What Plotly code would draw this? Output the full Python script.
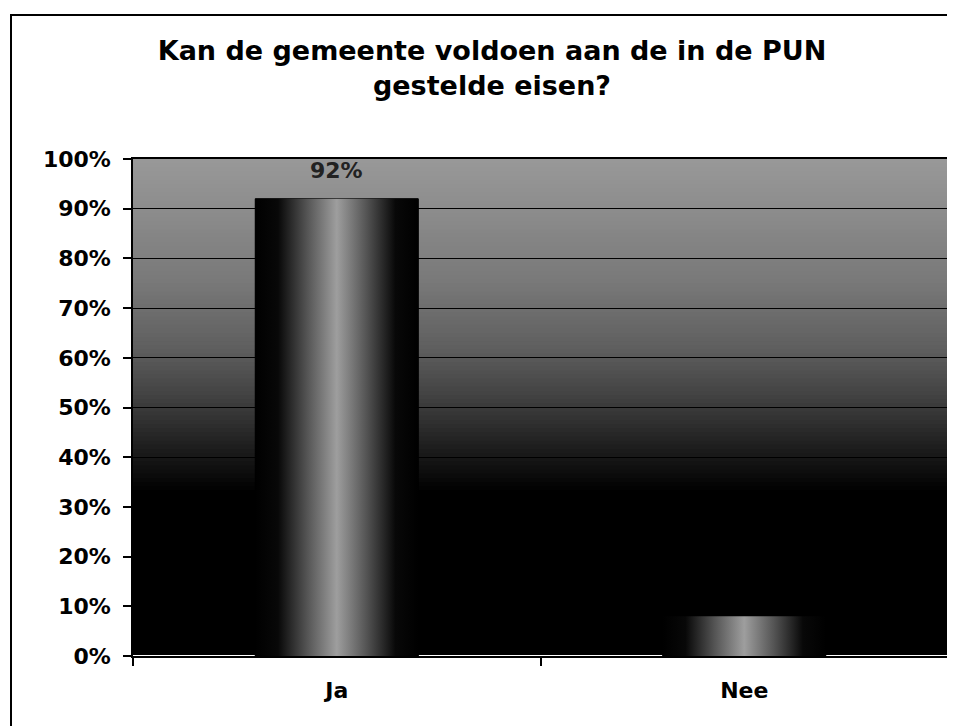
import numpy as np
import plotly.graph_objects as go

# Kan de gemeente voldoen aan de in de PUN gestelde eisen?
categories = ["Ja", "Nee"]
values = [0.92, 0.08]
labels = ["92%", ""]

title = "Kan de gemeente voldoen aan de in de PUN<br>gestelde eisen?"
font = "DejaVu Sans"

# background gradient of the plot area (fraction of height -> grey level)
bg_stops = [0.0, 0.33, 0.42, 0.52, 0.62, 0.75, 0.88, 1.0]
bg_grey = [0, 0, 30, 65, 95, 120, 138, 152]

bar_width = 0.4

fig = go.Figure()

# the bars themselves (dark edges)
fig.add_trace(go.Bar(
    x=categories,
    y=values,
    width=bar_width,
    marker=dict(color="black", line=dict(color="black", width=1)),
    showlegend=False,
    hoverinfo="skip",
))

# light centre of each bar, drawn over the bar on a hidden numeric axis
for i, v in enumerate(values):
    fig.add_trace(go.Scatter(
        x=[i - bar_width / 2, i + bar_width / 2, i + bar_width / 2, i - bar_width / 2, i - bar_width / 2],
        y=[0, 0, v, v, 0],
        xaxis="x2",
        mode="lines",
        line=dict(width=0),
        fill="toself",
        fillgradient=dict(
            type="horizontal",
            colorscale=[[0, "black"], [0.14, "#080808"], [0.32, "#555555"], [0.5, "#9e9e9e"],
                        [0.68, "#555555"], [0.86, "#080808"], [1, "black"]],
        ),
        showlegend=False,
        hoverinfo="skip",
    ))

# data label
for c, v, t in zip(categories, values, labels):
    if t:
        fig.add_annotation(
            x=c, y=v, text=t, showarrow=False, yanchor="bottom", yshift=14,
            font=dict(family=font, size=22, color="#222222", weight="bold"),
        )

# gradient stripes behind the gridlines (overlapping a little to avoid seams)
n = 120
edges = np.linspace(0, 1, n + 1)
for k in range(n):
    g = int(round(np.interp((edges[k] + edges[k + 1]) / 2, bg_stops, bg_grey)))
    fig.add_shape(
        type="rect", xref="paper", yref="y",
        x0=0, x1=1, y0=edges[k], y1=min(1, edges[k + 1] + 1 / n),
        fillcolor=f"rgb({g},{g},{g})", line=dict(width=0), layer="below",
    )

# outer chart frame
fig.add_shape(
    type="rect", xref="paper", yref="paper",
    x0=(3 - 125) / 815, x1=1.05, y0=-0.3, y1=1 + (151 - 7) / 497,
    line=dict(color="black", width=2), fillcolor="rgba(0,0,0,0)", layer="below",
)

fig.update_layout(
    width=955,
    height=726,
    margin=dict(l=125, r=15, t=151, b=78),
    paper_bgcolor="white",
    plot_bgcolor="black",
    title=dict(
        text=title,
        x=484 / 955, xref="container", xanchor="center",
        y=1 - 52 / 726, yref="container", yanchor="top",
        font=dict(family=font, size=27, color="black", weight="bold"),
    ),
    xaxis=dict(
        type="category",
        categoryarray=categories,
        range=[-0.5, 1.5],
        tickson="boundaries",
        ticks="outside",
        ticklen=8,
        tickwidth=1.5,
        tickcolor="black",
        showline=True,
        linecolor="black",
        linewidth=1.5,
        mirror=True,
        showgrid=False,
        ticklabelstandoff=14,
        tickfont=dict(family=font, size=22, color="black", weight="bold"),
    ),
    xaxis2=dict(range=[-0.5, 1.5], overlaying="x", visible=False),
    yaxis=dict(
        range=[0, 1],
        dtick=0.1,
        tickformat=".0%",
        ticks="outside",
        ticklen=8,
        tickwidth=1.5,
        tickcolor="black",
        showline=True,
        linecolor="black",
        linewidth=1.5,
        mirror=True,
        showgrid=True,
        gridcolor="black",
        gridwidth=1,
        ticklabelstandoff=8,
        tickfont=dict(family=font, size=22, color="black", weight="bold"),
    ),
)

fig.write_html("out.html")
